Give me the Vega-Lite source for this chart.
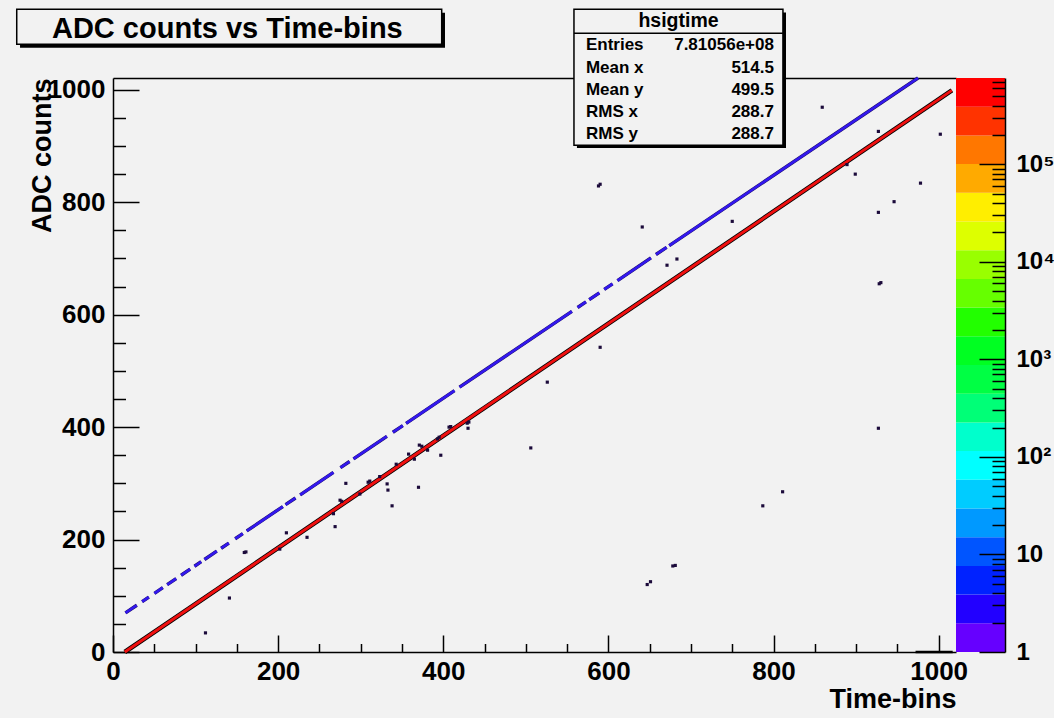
{
  "$schema": "https://vega.github.io/schema/vega-lite/v6.json",
  "background": "#f2f2f2",
  "padding": {"left": 15, "top": 8, "right": 4, "bottom": 6},
  "width": 843,
  "height": 574,
  "config": {
    "view": {"stroke": null},
    "font": "Liberation Sans",
    "axis": {
      "labelFont": "Liberation Sans", "labelFontWeight": "bold", "labelFontSize": 26, "labelColor": "#000000",
      "titleFont": "Liberation Sans", "titleFontWeight": "bold", "titleFontSize": 27, "titleColor": "#000000",
      "domainColor": "#000000", "tickColor": "#000000", "grid": false, "labelFlush": false, "labelOverlap": false
    },
    "text": {"font": "Liberation Sans", "fontWeight": "bold", "color": "#000000"}
  },
  "datasets": {
    "redline": [{"t": 14.3, "adc": 0}, {"t": 1016, "adc": 999}],
    "blue": [
      {"t1": 15.1, "a1": 69.6, "t2": 28.8, "a2": 83.2},
      {"t1": 35.3, "a1": 89.6, "t2": 43.4, "a2": 97.7},
      {"t1": 50.2, "a1": 104.4, "t2": 60.3, "a2": 114.4},
      {"t1": 65.6, "a1": 119.7, "t2": 76.5, "a2": 130.5},
      {"t1": 82.5, "a1": 136.5, "t2": 93.4, "a2": 147.3},
      {"t1": 98.7, "a1": 152.5, "t2": 106.8, "a2": 160.6},
      {"t1": 110.8, "a1": 164.5, "t2": 125.7, "a2": 179.3},
      {"t1": 131, "a1": 184.6, "t2": 140.3, "a2": 193.8},
      {"t1": 148, "a1": 201.4, "t2": 157.2, "a2": 210.6},
      {"t1": 162, "a1": 215.3, "t2": 205.7, "a2": 258.7},
      {"t1": 209, "a1": 262.0, "t2": 221, "a2": 273.9},
      {"t1": 226.7, "a1": 279.5, "t2": 267, "a2": 319.5},
      {"t1": 275.5, "a1": 327.9, "t2": 286.5, "a2": 338.8},
      {"t1": 291.3, "a1": 343.6, "t2": 331.7, "a2": 383.7},
      {"t1": 339, "a1": 390.9, "t2": 351, "a2": 402.8},
      {"t1": 355, "a1": 406.8, "t2": 413.6, "a2": 464.9},
      {"t1": 419.7, "a1": 471.0, "t2": 555.8, "a2": 606.0},
      {"t1": 562.7, "a1": 612.8, "t2": 572.8, "a2": 622.8},
      {"t1": 576.8, "a1": 626.8, "t2": 589, "a2": 638.9},
      {"t1": 595, "a1": 644.9, "t2": 605, "a2": 654.8},
      {"t1": 611, "a1": 660.7, "t2": 651.5, "a2": 700.9},
      {"t1": 657.6, "a1": 707.0, "t2": 670.5, "a2": 719.8},
      {"t1": 673.7, "a1": 722.9, "t2": 975, "a2": 1021}
    ],
    "pts": [
      {"t": 859, "adc": 969}, {"t": 927, "adc": 926}, {"t": 1002, "adc": 921}, {"t": 899, "adc": 850},
      {"t": 978, "adc": 834}, {"t": 946, "adc": 801}, {"t": 927, "adc": 782}, {"t": 928, "adc": 655},
      {"t": 930, "adc": 657}, {"t": 889, "adc": 867}, {"t": 588, "adc": 829}, {"t": 590, "adc": 832},
      {"t": 641, "adc": 756}, {"t": 750, "adc": 766}, {"t": 671, "adc": 688}, {"t": 683, "adc": 699},
      {"t": 590, "adc": 542}, {"t": 526, "adc": 480}, {"t": 927, "adc": 398}, {"t": 811, "adc": 285},
      {"t": 787, "adc": 260}, {"t": 681, "adc": 154}, {"t": 678, "adc": 153}, {"t": 647, "adc": 120},
      {"t": 651, "adc": 125}, {"t": 506, "adc": 363}, {"t": 141, "adc": 96}, {"t": 112, "adc": 34},
      {"t": 159, "adc": 177}, {"t": 161, "adc": 178}, {"t": 282, "adc": 300}, {"t": 269, "adc": 223},
      {"t": 210, "adc": 212}, {"t": 235, "adc": 204}, {"t": 338, "adc": 260}, {"t": 333, "adc": 288},
      {"t": 370, "adc": 293}, {"t": 397, "adc": 350}, {"t": 430, "adc": 398},
      {"t": 202, "adc": 183}, {"t": 267, "adc": 246}, {"t": 275, "adc": 270}, {"t": 277, "adc": 268},
      {"t": 299, "adc": 281}, {"t": 311, "adc": 304}, {"t": 309, "adc": 302}, {"t": 323, "adc": 312},
      {"t": 332, "adc": 299}, {"t": 343, "adc": 334}, {"t": 358, "adc": 352}, {"t": 365, "adc": 343},
      {"t": 371, "adc": 368}, {"t": 374, "adc": 366}, {"t": 381, "adc": 359}, {"t": 393, "adc": 379},
      {"t": 395, "adc": 382}, {"t": 407, "adc": 400}, {"t": 409, "adc": 401}, {"t": 429, "adc": 407},
      {"t": 431, "adc": 409}
    ],
    "edge": [{"t1": 972, "t2": 1017, "adc": 0}],
    "palette": [
      {"lo": 1, "hi": 1.969, "color": "#6600ff"},
      {"lo": 1.969, "hi": 3.877, "color": "#2200ff"},
      {"lo": 3.877, "hi": 7.634, "color": "#0022ff"},
      {"lo": 7.634, "hi": 15.03, "color": "#0055ff"},
      {"lo": 15.03, "hi": 29.6, "color": "#0099ff"},
      {"lo": 29.6, "hi": 58.28, "color": "#00ccff"},
      {"lo": 58.28, "hi": 114.8, "color": "#00ffff"},
      {"lo": 114.8, "hi": 226, "color": "#00ffcc"},
      {"lo": 226, "hi": 445, "color": "#00ff77"},
      {"lo": 445, "hi": 876, "color": "#00ff44"},
      {"lo": 876, "hi": 1725, "color": "#00ff22"},
      {"lo": 1725, "hi": 3396, "color": "#22ff00"},
      {"lo": 3396, "hi": 6687, "color": "#66ff00"},
      {"lo": 6687, "hi": 13170, "color": "#99ff00"},
      {"lo": 13170, "hi": 25930, "color": "#ddff00"},
      {"lo": 25930, "hi": 51050, "color": "#ffee00"},
      {"lo": 51050, "hi": 100500, "color": "#ffaa00"},
      {"lo": 100500, "hi": 197900, "color": "#ff7700"},
      {"lo": 197900, "hi": 389700, "color": "#ff3300"},
      {"lo": 389700, "hi": 767000, "color": "#ff0000"}
    ]
  },
  "layer": [
    {
      "data": {"name": "redline"},
      "mark": {"type": "line", "stroke": "#000000", "strokeWidth": 4.6},
      "encoding": {
        "x": {"field": "t", "type": "quantitative", "scale": {"domain": [0, 1021]},
          "axis": {"orient": "bottom", "values": [0, 200, 400, 600, 800, 1000], "format": "d", "ticks": false, "domain": true, "domainWidth": 1.5, "labelPadding": 6, "title": "Time-bins", "titleAnchor": "end", "titlePadding": 2}},
        "y": {"field": "adc", "type": "quantitative", "scale": {"domain": [0, 1021]},
          "axis": {"orient": "left", "values": [0, 200, 400, 600, 800, 1000], "format": "d", "ticks": false, "domain": true, "domainWidth": 1.5, "labelPadding": 8, "title": "ADC counts", "titleAnchor": "end", "titlePadding": -9}}
      }
    },
    {
      "data": {"name": "redline"},
      "mark": {"type": "line", "stroke": "#f01010", "strokeWidth": 3},
      "encoding": {
        "x": {"field": "t", "type": "quantitative", "scale": {"domain": [0, 1021]},
          "axis": {"orient": "bottom", "values": [0, 200, 400, 600, 800, 1000], "labels": false, "domain": false, "ticks": true, "tickSize": -17, "tickWidth": 1.5, "title": null}},
        "y": {"field": "adc", "type": "quantitative", "scale": {"domain": [0, 1021]},
          "axis": {"orient": "left", "values": [0, 200, 400, 600, 800, 1000], "labels": false, "domain": false, "ticks": true, "tickSize": -26, "tickWidth": 1.5, "title": null}}
      }
    },
    {
      "data": {"name": "blue"},
      "mark": {"type": "rule", "stroke": "#1a0c60", "strokeWidth": 3.4},
      "encoding": {
        "x": {"field": "t1", "type": "quantitative", "scale": {"domain": [0, 1021]},
          "axis": {"orient": "bottom", "values": [50, 100, 150, 250, 300, 350, 450, 500, 550, 650, 700, 750, 850, 900, 950], "labels": false, "domain": false, "ticks": true, "tickSize": -8.5, "tickWidth": 1.5, "title": null}},
        "x2": {"field": "t2"},
        "y": {"field": "a1", "type": "quantitative", "scale": {"domain": [0, 1021]},
          "axis": {"orient": "left", "values": [50, 100, 150, 250, 300, 350, 450, 500, 550, 650, 700, 750, 850, 900, 950], "labels": false, "domain": false, "ticks": true, "tickSize": -12.5, "tickWidth": 1.5, "title": null}},
        "y2": {"field": "a2"}
      }
    },
    {
      "data": {"name": "blue"},
      "mark": {"type": "rule", "stroke": "#3318ee", "strokeWidth": 2.6},
      "encoding": {
        "x": {"field": "t1", "type": "quantitative", "scale": {"domain": [0, 1021]},
          "axis": {"orient": "top", "labels": false, "ticks": false, "domain": true, "domainWidth": 1.5, "title": null}},
        "x2": {"field": "t2"},
        "y": {"field": "a1", "type": "quantitative", "scale": {"domain": [0, 1021]}, "axis": null},
        "y2": {"field": "a2"}
      }
    },
    {
      "data": {"name": "pts"},
      "mark": {"type": "square", "size": 10, "color": "#1b0a3a", "opacity": 1},
      "encoding": {
        "x": {"field": "t", "type": "quantitative", "scale": {"domain": [0, 1021]}, "axis": null},
        "y": {"field": "adc", "type": "quantitative", "scale": {"domain": [0, 1021]}, "axis": null}
      }
    },
    {
      "data": {"name": "edge"},
      "mark": {"type": "rule", "stroke": "#000000", "strokeWidth": 2.5},
      "encoding": {
        "x": {"field": "t1", "type": "quantitative", "scale": {"domain": [0, 1021]}, "axis": null},
        "x2": {"field": "t2"},
        "y": {"field": "adc", "type": "quantitative", "scale": {"domain": [0, 1021]}, "axis": null}
      }
    },
    {
      "data": {"name": "palette"},
      "mark": {"type": "rect"},
      "encoding": {
        "x": {"datum": 1021, "type": "quantitative", "scale": {"domain": [0, 1021]}, "axis": null},
        "x2": {"datum": 1080.3},
        "y": {"field": "lo", "type": "quantitative", "scale": {"type": "log", "domain": [1, 767000]},
          "axis": {"orient": "right", "offset": 49, "values": [1, 10, 100, 1000, 10000, 100000], "ticks": false, "domain": true, "domainWidth": 1.5, "labelPadding": 11, "labelFontSize": 24, "labelAlign": "left", "labelBaseline": "middle", "zindex": 1, "title": null,
            "labelExpr": "datum.value < 5 ? '1' : datum.value < 50 ? '10' : datum.value < 500 ? '10²' : datum.value < 5000 ? '10³' : datum.value < 50000 ? '10⁴' : '10⁵'"}},
        "y2": {"field": "hi"},
        "fill": {"field": "color", "type": "nominal", "scale": null, "legend": null}
      }
    },
    {
      "data": {"name": "palette"},
      "mark": {"type": "rect", "opacity": 0},
      "encoding": {
        "x": {"datum": 1021, "type": "quantitative", "scale": {"domain": [0, 1021]}, "axis": null},
        "x2": {"datum": 1080.3},
        "y": {"field": "lo", "type": "quantitative", "scale": {"type": "log", "domain": [1, 767000]},
          "axis": {"orient": "right", "offset": 49, "values": [1, 10, 100, 1000, 10000, 100000], "labels": false, "domain": false, "ticks": true, "tickSize": -26, "tickWidth": 1.5, "zindex": 1, "title": null}},
        "y2": {"field": "hi"}
      }
    },
    {
      "data": {"name": "palette"},
      "mark": {"type": "rect", "opacity": 0},
      "encoding": {
        "x": {"datum": 1021, "type": "quantitative", "scale": {"domain": [0, 1021]}, "axis": null},
        "x2": {"datum": 1080.3},
        "y": {"field": "lo", "type": "quantitative", "scale": {"type": "log", "domain": [1, 767000]},
          "axis": {"orient": "right", "offset": 49, "values": [2, 3, 4, 5, 6, 7, 8, 9, 20, 30, 40, 50, 60, 70, 80, 90, 200, 300, 400, 500, 600, 700, 800, 900, 2000, 3000, 4000, 5000, 6000, 7000, 8000, 9000, 20000, 30000, 40000, 50000, 60000, 70000, 80000, 90000, 200000, 300000, 400000, 500000, 600000, 700000], "labels": false, "domain": false, "ticks": true, "tickSize": -13, "tickWidth": 1.5, "zindex": 1, "title": null}},
        "y2": {"field": "hi"}
      }
    },
    {
      "data": {"values": [{}]},
      "mark": {"type": "rect", "fill": "#000000"},
      "encoding": {
        "x": {"datum": -112.6, "type": "quantitative", "scale": {"domain": [0, 1021]}, "axis": null},
        "x2": {"datum": 402.1},
        "y": {"datum": 1137.1, "type": "quantitative", "scale": {"domain": [0, 1021]}, "axis": null},
        "y2": {"datum": 1074.9}
      }
    },
    {
      "data": {"values": [{}]},
      "mark": {"type": "rect", "fill": "#f2f2f2", "stroke": "#000000", "strokeWidth": 1.5},
      "encoding": {
        "x": {"datum": -116.6, "type": "quantitative", "scale": {"domain": [0, 1021]}, "axis": null},
        "x2": {"datum": 398.1},
        "y": {"datum": 1143.2, "type": "quantitative", "scale": {"domain": [0, 1021]}, "axis": null},
        "y2": {"datum": 1080.9}
      }
    },
    {
      "data": {"values": [{}]},
      "mark": {"type": "text", "text": "ADC counts vs Time-bins", "fontSize": 29, "align": "center", "baseline": "alphabetic"},
      "encoding": {
        "x": {"datum": 138.5, "type": "quantitative", "scale": {"domain": [0, 1021]}, "axis": null},
        "y": {"datum": 1092.7, "type": "quantitative", "scale": {"domain": [0, 1021]}, "axis": null}
      }
    },
    {
      "data": {"values": [{}]},
      "mark": {"type": "rect", "fill": "#000000"},
      "encoding": {
        "x": {"datum": 561.9, "type": "quantitative", "scale": {"domain": [0, 1021]}, "axis": null},
        "x2": {"datum": 815.1},
        "y": {"datum": 1137.5, "type": "quantitative", "scale": {"domain": [0, 1021]}, "axis": null},
        "y2": {"datum": 896.5}
      }
    },
    {
      "data": {"values": [{}]},
      "mark": {"type": "rect", "fill": "#f2f2f2", "stroke": "#000000", "strokeWidth": 1.5},
      "encoding": {
        "x": {"datum": 558.3, "type": "quantitative", "scale": {"domain": [0, 1021]}, "axis": null},
        "x2": {"datum": 811.4},
        "y": {"datum": 1143.2, "type": "quantitative", "scale": {"domain": [0, 1021]}, "axis": null},
        "y2": {"datum": 901.5}
      }
    },
    {
      "data": {"values": [{}]},
      "mark": {"type": "rule", "stroke": "#000000", "strokeWidth": 1.5},
      "encoding": {
        "x": {"datum": 558.3, "type": "quantitative", "scale": {"domain": [0, 1021]}, "axis": null},
        "x2": {"datum": 811.4},
        "y": {"datum": 1100.5, "type": "quantitative", "scale": {"domain": [0, 1021]}, "axis": null}
      }
    },
    {
      "data": {"values": [{}]},
      "mark": {"type": "text", "text": "hsigtime", "fontSize": 19.5, "align": "center", "baseline": "alphabetic"},
      "encoding": {
        "x": {"datum": 684.9, "type": "quantitative", "scale": {"domain": [0, 1021]}, "axis": null},
        "y": {"datum": 1111.7, "type": "quantitative", "scale": {"domain": [0, 1021]}, "axis": null}
      }
    },
    {
      "data": {"values": [{}]},
      "mark": {"type": "text", "text": ["Entries", "Mean x", "Mean y", "RMS x", "RMS y"], "lineHeight": 22.25, "fontSize": 17, "align": "left", "baseline": "alphabetic"},
      "encoding": {
        "x": {"datum": 572.8, "type": "quantitative", "scale": {"domain": [0, 1021]}, "axis": null},
        "y": {"datum": 1070.3, "type": "quantitative", "scale": {"domain": [0, 1021]}, "axis": null}
      }
    },
    {
      "data": {"values": [{}]},
      "mark": {"type": "text", "text": ["7.81056e+08", "514.5", "499.5", "288.7", "288.7"], "lineHeight": 22.25, "fontSize": 17, "align": "right", "baseline": "alphabetic"},
      "encoding": {
        "x": {"datum": 800.5, "type": "quantitative", "scale": {"domain": [0, 1021]}, "axis": null},
        "y": {"datum": 1070.3, "type": "quantitative", "scale": {"domain": [0, 1021]}, "axis": null}
      }
    }
  ],
  "resolve": {"scale": {"y": "independent"}, "axis": {"x": "independent", "y": "independent"}}
}
